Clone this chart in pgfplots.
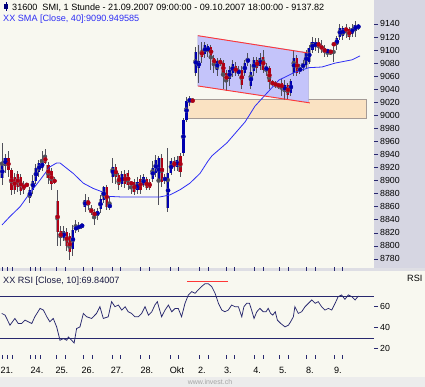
\documentclass[border=0pt]{standalone}
\usepackage{pgfplots}
\pgfplotsset{compat=1.18}
\usepackage{pgfplotstable}
\usepackage{fontspec}
\setmainfont{Liberation Sans}

\definecolor{bg}{RGB}{248,248,240}
\definecolor{panel}{RGB}{214,214,226}
\definecolor{sep}{RGB}{222,222,228}
\definecolor{upc}{RGB}{0,0,175}
\definecolor{dnc}{RGB}{175,0,20}
\definecolor{edgec}{RGB}{150,150,160}
\definecolor{wickc}{RGB}{80,80,90}
\definecolor{navy}{RGB}{40,40,110}
\definecolor{smac}{RGB}{45,45,245}
\definecolor{boxc}{RGB}{250,226,194}
\definecolor{boxe}{RGB}{165,155,150}
\definecolor{chan}{RGB}{196,196,250}
\definecolor{chane}{RGB}{170,170,225}
\definecolor{redl}{RGB}{255,55,55}
\definecolor{wm}{RGB}{236,236,236}
\definecolor{wmt}{RGB}{165,165,165}

\newcommand\f{\fontsize{9.1}{11}\selectfont}

\pgfplotstableread{
x o h l c
0 8904 8958 8894 8924
1 8922 8940 8912 8935
2 8935 8945 8905 8916
3 8916 8920 8878 8885
4 8905 8912 8880 8886
5 8910 8915 8882 8890
6 8905 8910 8878 8884
7 8895 8900 8880 8886
8 8894 8897 8890 8893
9 8873 8890 8865 8886
10 8886 8908 8880 8900
11 8900 8925 8895 8920
12 8913 8932 8905 8927
13 8919 8945 8915 8929
14 8938 8948 8925 8927
15 8924 8928 8895 8904
16 8915 8920 8885 8895
17 8900 8905 8895 8899
18 8868 8885 8800 8821
19 8822 8830 8800 8812
20 8812 8830 8808 8822
21 8822 8828 8792 8800
22 8815 8820 8778 8790
23 8795 8832 8785 8825
24 8826 8840 8820 8828
25 8828 8836 8822 8830
26 8830 8835 8826 8832
27 8860 8880 8852 8870
28 8870 8875 8855 8862
29 8858 8862 8848 8850
30 8852 8856 8832 8846
31 8846 8858 8840 8854
32 8856 8878 8850 8872
33 8870 8892 8865 8890
34 8890 8894 8855 8860
35 8860 8875 8855 8862
36 8906 8935 8897 8921
37 8921 8926 8895 8905
38 8908 8912 8885 8894
39 8895 8915 8890 8910
40 8910 8916 8888 8895
41 8912 8916 8885 8894
42 8897 8900 8880 8895
43 8898 8903 8878 8882
44 8885 8905 8880 8898
45 8903 8908 8880 8885
46 8893 8910 8890 8905
47 8902 8905 8885 8888
48 8898 8902 8885 8889
49 8902 8930 8898 8920
50 8912 8940 8905 8932
51 8898 8938 8862 8935
52 8935 8940 8890 8898
53 8900 8910 8895 8905
54 8858 8950 8852 8912
55 8912 8935 8908 8930
56 8930 8936 8915 8921
57 8921 8938 8915 8932
58 8938 8942 8905 8913
59 8942 8996 8938 8993
60 8993 9028 8990 9022
61 9022 9030 9015 9024
62 9023 9026 9020 9022
63 9065 9105 9060 9097
64 9072 9108 9050 9084
65 9100 9112 9080 9090
66 9094 9112 9088 9108
67 9097 9110 9090 9106
68 9105 9108 9070 9090
69 9088 9092 9065 9078
70 9070 9088 9060 9083
71 9083 9088 9075 9080
72 9080 9085 9040 9065
73 9065 9070 9037 9051
74 9055 9075 9045 9070
75 9065 9085 9058 9078
76 9075 9082 9060 9065
77 9065 9075 9060 9068
78 9070 9075 9040 9047
79 9065 9085 9060 9080
80 9080 9095 9075 9088
81 9045 9078 9040 9066
82 9068 9090 9060 9085
83 9085 9090 9065 9073
84 9075 9095 9070 9088
85 9090 9100 9065 9070
86 9068 9080 9060 9075
87 9072 9076 9040 9051
88 9051 9054 9045 9048
89 9048 9052 9042 9047
90 9047 9050 9040 9045
91 9050 9055 9030 9040
92 9036 9054 9024 9047
93 9047 9050 9025 9031
94 9035 9056 9030 9052
95 9065 9100 9060 9088
96 9088 9092 9060 9065
97 9068 9078 9064 9072
98 9072 9085 9068 9080
99 9077 9100 9072 9096
100 9082 9108 9078 9103
101 9100 9120 9095 9112
102 9105 9118 9098 9112
103 9112 9118 9095 9105
104 9105 9115 9095 9103
105 9103 9108 9090 9096
106 9098 9102 9090 9099
107 9098 9100 9092 9097
108 9110 9112 9082 9108
109 9108 9122 9100 9118
110 9120 9140 9115 9134
111 9122 9137 9115 9134
112 9133 9140 9118 9130
113 9132 9136 9115 9120
114 9125 9140 9120 9134
115 9130 9145 9120 9138
116 9134 9140 9130 9137.82
}\candles

\pgfplotstableread{
x y
0 8832
2.6 8845
5.9 8860
9.1 8881
12.4 8901
15.6 8921
17.8 8927
18.9 8927
20.5 8921
23.2 8911
26.5 8896
29.7 8888
32.5 8883
34.1 8876
38.4 8875
51.5 8875
54.7 8878
58 8886
61.2 8896
64.5 8911
67.1 8930
68.4 8938
73.3 8958
79.2 8990
82.4 9014
85.7 9031
90.2 9054
95.4 9066
100 9073
104.2 9074
108.5 9080
114 9085
116.6 9091
}\sma

\pgfplotstableread{
x y
-0.1 53.6
1.0 52
2.6 42.4
4.2 48.8
5.3 44
6.4 44
7.5 47.2
8.6 45.6
9.7 44
10.7 50.4
12.4 58.4
13.5 56.8
14.6 50.4
15.6 45.6
16.7 48.8
17.8 40.8
18.9 28
20.0 29.6
21.1 28
21.6 31.2
22.7 28
23.5 25.4
24.3 39.2
25.4 40.8
26.5 53.6
27.6 50.4
29.2 48.8
30.8 53.6
31.9 60
33.0 48.8
34.6 50.4
35.7 64.8
36.8 60
37.9 61.6
39.0 56.8
40.1 60
41.1 55.2
42.2 53.6
43.3 50.4
44.4 50.4
45.5 53.6
46.6 60
47.7 52
48.8 55.2
49.8 61.6
50.6 64.8
51.2 58.4
52.0 50.4
53.1 56.8
54.2 61.6
55.3 55.2
56.4 58.4
57.4 58.4
58.5 50.4
59.6 63.2
60.7 71.2
61.8 74.4
62.9 72.8
63.9 76
65.0 79.2
66.1 81.8
67.2 81.8
68.3 79.2
69.4 72.8
70.5 63.2
71.6 56.8
72.6 55.2
73.7 56.8
74.8 61.6
75.9 60
77.0 60
78.1 50.4
78.8 60
79.7 63.2
80.6 63.2
81.3 56.8
82.1 48.8
83.0 55.2
84.0 58.4
85.1 55.2
86.0 55.2
86.7 58.4
87.5 53.6
88.2 52
89.0 55.2
89.7 47.2
90.8 44
92.2 40.8
93.3 42.4
94.0 45.6
94.9 50.4
95.4 60
96.5 53.6
97.6 55.2
98.7 60
99.8 63.2
100.9 66.4
102.0 63.2
103.0 64.8
104.1 60
105.2 56.8
106.3 58.4
107.4 56.8
108.5 63.2
109.5 69.6
110.6 71.2
111.7 67
112.8 71.2
113.9 69.6
115.0 66.4
116.1 70.2
}\rsi

\begin{document}
\begin{tikzpicture}
\useasboundingbox (0pt,0pt) rectangle (425pt,387pt);
\fill[bg] (0pt,0pt) rectangle (425pt,387pt);
\fill[panel] (374pt,119pt) rectangle (425pt,387pt);
\fill[sep] (0pt,116pt) rectangle (425pt,119pt);
\fill[wm] (0pt,0pt) rectangle (425pt,10pt);
\draw[white!85!gray, line width=0.6pt] (0pt,10pt) -- (425pt,10pt);

% ---------- main price panel ----------
\begin{axis}[
  at={(0pt,119pt)}, anchor=south west,
  scale only axis, width=374pt, height=268pt,
  xmin=-0.65, xmax=121.17, ymin=8766.2, ymax=9176.8,
  axis line style={draw=none},
  axis background/.style={fill=bg},
  xtick=\empty,
  ytick={8780,8800,...,9140},
  yticklabel pos=right,
  tick align=outside, major tick length=4pt,
  tick style={navy, line width=0.6pt},
  yticklabel style={font=\fontsize{8.8}{10}\selectfont, inner sep=0pt, anchor=west, xshift=2pt},
  /pgf/number format/1000 sep={},
  /pgf/number format/assume math mode=true,
]
% support zone
\addplot[fill=boxc, draw=boxe, line width=0.6pt, forget plot]
  coordinates {(60.3,8996) (118.6,8996) (118.6,9024) (60.3,9024)} -- cycle;
% channel
\addplot[fill=chan, draw=chane, line width=0.5pt, forget plot]
  coordinates {(63.8,9122) (99.8,9096) (99.8,9020) (63.8,9045)} -- cycle;
% wicks
\addplot[wickc, only marks, mark=none, forget plot,
  error bars/.cd, y dir=both, y explicit, error mark=none,
  error bar style={line width=0.7pt, wickc}]
  table[x=x, y expr={(\thisrow{h}+\thisrow{l})/2}, y error expr={(\thisrow{h}-\thisrow{l})/2}] {\candles};
% body edges
\addplot[edgec, only marks, mark=none, forget plot,
  error bars/.cd, y dir=both, y explicit, error mark=none,
  error bar style={line width=3.2pt, edgec}]
  table[x=x, y expr={(\thisrow{o}+\thisrow{c})/2}, y error expr={max(abs(\thisrow{c}-\thisrow{o})/2,1.4)}] {\candles};
% up bodies (others moved far below the visible range)
\addplot[upc, only marks, mark=none, forget plot,
  error bars/.cd, y dir=both, y explicit, error mark=none,
  error bar style={line width=2.2pt, upc}]
  table[x expr={\thisrow{x}+0.12},
        y expr={(\thisrow{c}>\thisrow{o})*(\thisrow{o}+\thisrow{c})/2},
        y error expr={max(abs(\thisrow{c}-\thisrow{o})/2,0.7)}] {\candles};
% down bodies
\addplot[dnc, only marks, mark=none, forget plot,
  error bars/.cd, y dir=both, y explicit, error mark=none,
  error bar style={line width=2.2pt, dnc}]
  table[x expr={\thisrow{x}+0.12},
        y expr={(\thisrow{c}<\thisrow{o})*(\thisrow{o}+\thisrow{c})/2},
        y error expr={max(abs(\thisrow{c}-\thisrow{o})/2,0.7)}] {\candles};
% SMA 40
\addplot[smac, line width=0.8pt, forget plot] table[x=x, y=y] {\sma};
% channel border lines
\addplot[redl, line width=0.9pt, forget plot] coordinates {(63.8,9122) (100.3,9095)};
\addplot[redl, line width=0.9pt, forget plot] coordinates {(63.8,9045) (100.3,9019)};
\end{axis}

% ---------- RSI panel ----------
\begin{axis}[
  at={(0pt,32pt)}, anchor=south west,
  scale only axis, width=374pt, height=84pt,
  xmin=-0.65, xmax=121.17, ymin=14, ymax=94,
  axis line style={draw=none},
  axis background/.style={fill=bg},
  xtick={0.2,1.8,3.4,9.3,11.0,12.4,17.8,20.7,26.4,29.3,35.8,38.4,44.9,47.9,54.7,57.3,64.2,67.1,73,75.6,82.1,85,90.2,93.2,99,102,108.1,111},
  xticklabels={},
  extra x ticks={1.6,11.4,19.5,28,37.5,47.2,57,65.1,73.6,83.1,91.5,100.3,109.4},
  extra x tick labels={21.,24.,25.,26.,27.,28.,Okt,2.,3.,4.,5.,8.,9.},
  extra x tick style={major tick length=0pt,
    xticklabel style={font=\fontsize{9.1}{11}\selectfont, anchor=base, inner sep=0pt, yshift=-18.3pt}},
  ytick={20,40,60},
  yticklabel pos=right,
  tick align=outside, major tick length=4pt,
  tick style={navy, line width=0.6pt},
  yticklabel style={font=\fontsize{8.8}{10}\selectfont, inner sep=0pt, anchor=west, xshift=2pt},
  /pgf/number format/assume math mode=true,
]
\addplot[navy, line width=0.9pt, forget plot] coordinates {(-0.65,70) (121.17,70)};
\addplot[navy, line width=0.9pt, forget plot] coordinates {(-0.65,30) (121.17,30)};
\addplot[navy, line width=0.75pt, forget plot] table[x=x, y=y] {\rsi};
\addplot[redl, line width=1.2pt, forget plot] coordinates {(60.3,84) (73.6,84)};
\end{axis}

% ---------- texts ----------
\fill[upc!70!black] (4pt,377.5pt) rectangle (8pt,383pt);
\draw[upc!70!black, line width=0.6pt] (6pt,376pt) -- (6pt,384.5pt);
\node[anchor=base west, inner sep=0pt, font=\f] at (12pt,376pt)
  {31600\hspace{5pt}SMI, 1 Stunde - 21.09.2007 09:00:00 - 09.10.2007 18:00:00 - 9137.82};
\node[anchor=base west, inner sep=0pt, font=\f, text=smac] at (3pt,365.5pt)
  {XX SMA [Close, 40]:9090.949585};
\node[anchor=base west, inner sep=0pt, font=\f, text=navy!60!black] at (3pt,103.7pt)
  {XX RSI [Close, 10]:69.84007};
\node[anchor=base west, inner sep=0pt, font=\f] at (407pt,105.3pt) {RSI};
\node[anchor=base, inner sep=0pt, font=\fontsize{7}{8}\selectfont, text=wmt] at (210pt,2.5pt) {www.invest.ch};
\end{tikzpicture}
\end{document}
